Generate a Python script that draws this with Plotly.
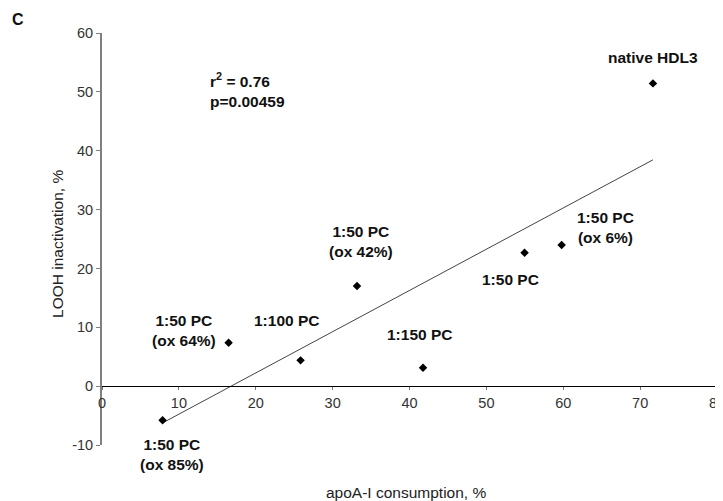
import numpy as np
import plotly.graph_objects as go

# ---- data ----
apoA_consumption = [71.67, 59.79, 54.97, 33.17, 16.47, 25.83, 41.76, 7.88]
looh_inactivation = [51.44, 23.97, 22.66, 17.00, 7.37, 4.38, 3.13, -5.81]
point_labels = ["native HDL3", "1:50 PC<br>(ox 6%)", "1:50 PC", "1:50 PC<br>(ox 42%)",
                "1:50 PC<br>(ox 64%)", "1:100 PC", "1:150 PC", "1:50 PC<br>(ox 85%)"]
x_ticks = [0, 10, 20, 30, 40, 50, 60, 70, 80]
y_ticks = [-10, 0, 10, 20, 30, 40, 50, 60]
y_tick_labels = ["-10", "0", "10", "20", "30", "40", "50", "60"]
stats_text = "r<sup>2</sup> = 0.76<br>p=0.00459"

# label offsets from their points in pixels (style)
label_offsets = [(0, 26), (44, 18), (-14, -27), (4, 45),
                 (-45, 12), (-14, 40), (-4, 33), (9, -34)]

FONT = "Liberation Sans, Arial, sans-serif"

slope, intercept = np.polyfit(apoA_consumption, looh_inactivation, 1)
fit_x = np.array([min(apoA_consumption), max(apoA_consumption)])
fit_y = slope * fit_x + intercept

fig = go.Figure()
fig.add_trace(go.Scatter(x=fit_x, y=fit_y, mode="lines",
                         line=dict(color="#444444", width=1), hoverinfo="skip"))
fig.add_trace(go.Scatter(x=apoA_consumption, y=looh_inactivation, mode="markers",
                         marker=dict(symbol="diamond", size=6.5, color="black")))

for xv, yv, txt, (dx, dy) in zip(apoA_consumption, looh_inactivation, point_labels, label_offsets):
    fig.add_annotation(x=xv, y=yv, xref="x", yref="y", text="<b>%s</b>" % txt,
                       showarrow=False, xshift=dx, yshift=dy,
                       xanchor="center", yanchor="middle",
                       font=dict(family=FONT, size=15.5, color="#111111"))

fig.add_annotation(x=0.1728, y=0.8617, xref="paper", yref="paper",
                   text="<b>%s</b>" % stats_text, showarrow=False, align="left",
                   xanchor="left", yanchor="middle",
                   font=dict(family=FONT, size=15.5, color="#111111"))
fig.add_annotation(x=-0.1366, y=1.0316, xref="paper", yref="paper", text="<b>C</b>",
                   showarrow=False, xanchor="center", yanchor="middle",
                   font=dict(family=FONT, size=16, color="#111111"))
fig.add_annotation(x=-0.0715, y=0.488, xref="paper", yref="paper",
                   text="LOOH inactivation, %", textangle=-90, showarrow=False,
                   xanchor="center", yanchor="middle",
                   font=dict(family=FONT, size=15.5, color="#222222"))
fig.add_annotation(x=0.494, y=-0.1165, xref="paper", yref="paper",
                   text="apoA-I consumption, %", showarrow=False,
                   xanchor="center", yanchor="middle",
                   font=dict(family=FONT, size=15.5, color="#222222"))

# page body has an 8px margin, so the figure is a bit smaller than the window
fig.update_layout(
    width=715, height=493,
    margin=dict(l=94, r=6, t=25, b=56),
    paper_bgcolor="white", plot_bgcolor="white",
    showlegend=False,
    font=dict(family=FONT),
    xaxis=dict(range=[0, 80], tickvals=x_ticks, showgrid=False, zeroline=False,
               showline=True, linecolor="black", linewidth=1,
               ticks="outside", ticklen=3, tickcolor="#777777",
               ticklabeloverflow="allow", automargin=False,
               anchor="free", position=(0 - y_ticks[0]) / (y_ticks[-1] - y_ticks[0]),
               tickfont=dict(family=FONT, size=14.5, color="#333333")),
    yaxis=dict(range=[-10, 60], tickvals=y_ticks, ticktext=y_tick_labels,
               domain=[0, 1], showgrid=False, automargin=False,
               zeroline=False, showline=True, linecolor="#808080", linewidth=2,
               ticks="outside", ticklen=4, tickcolor="#808080",
               tickfont=dict(family=FONT, size=14.5, color="#333333")),
)

fig.write_html("out.html")
